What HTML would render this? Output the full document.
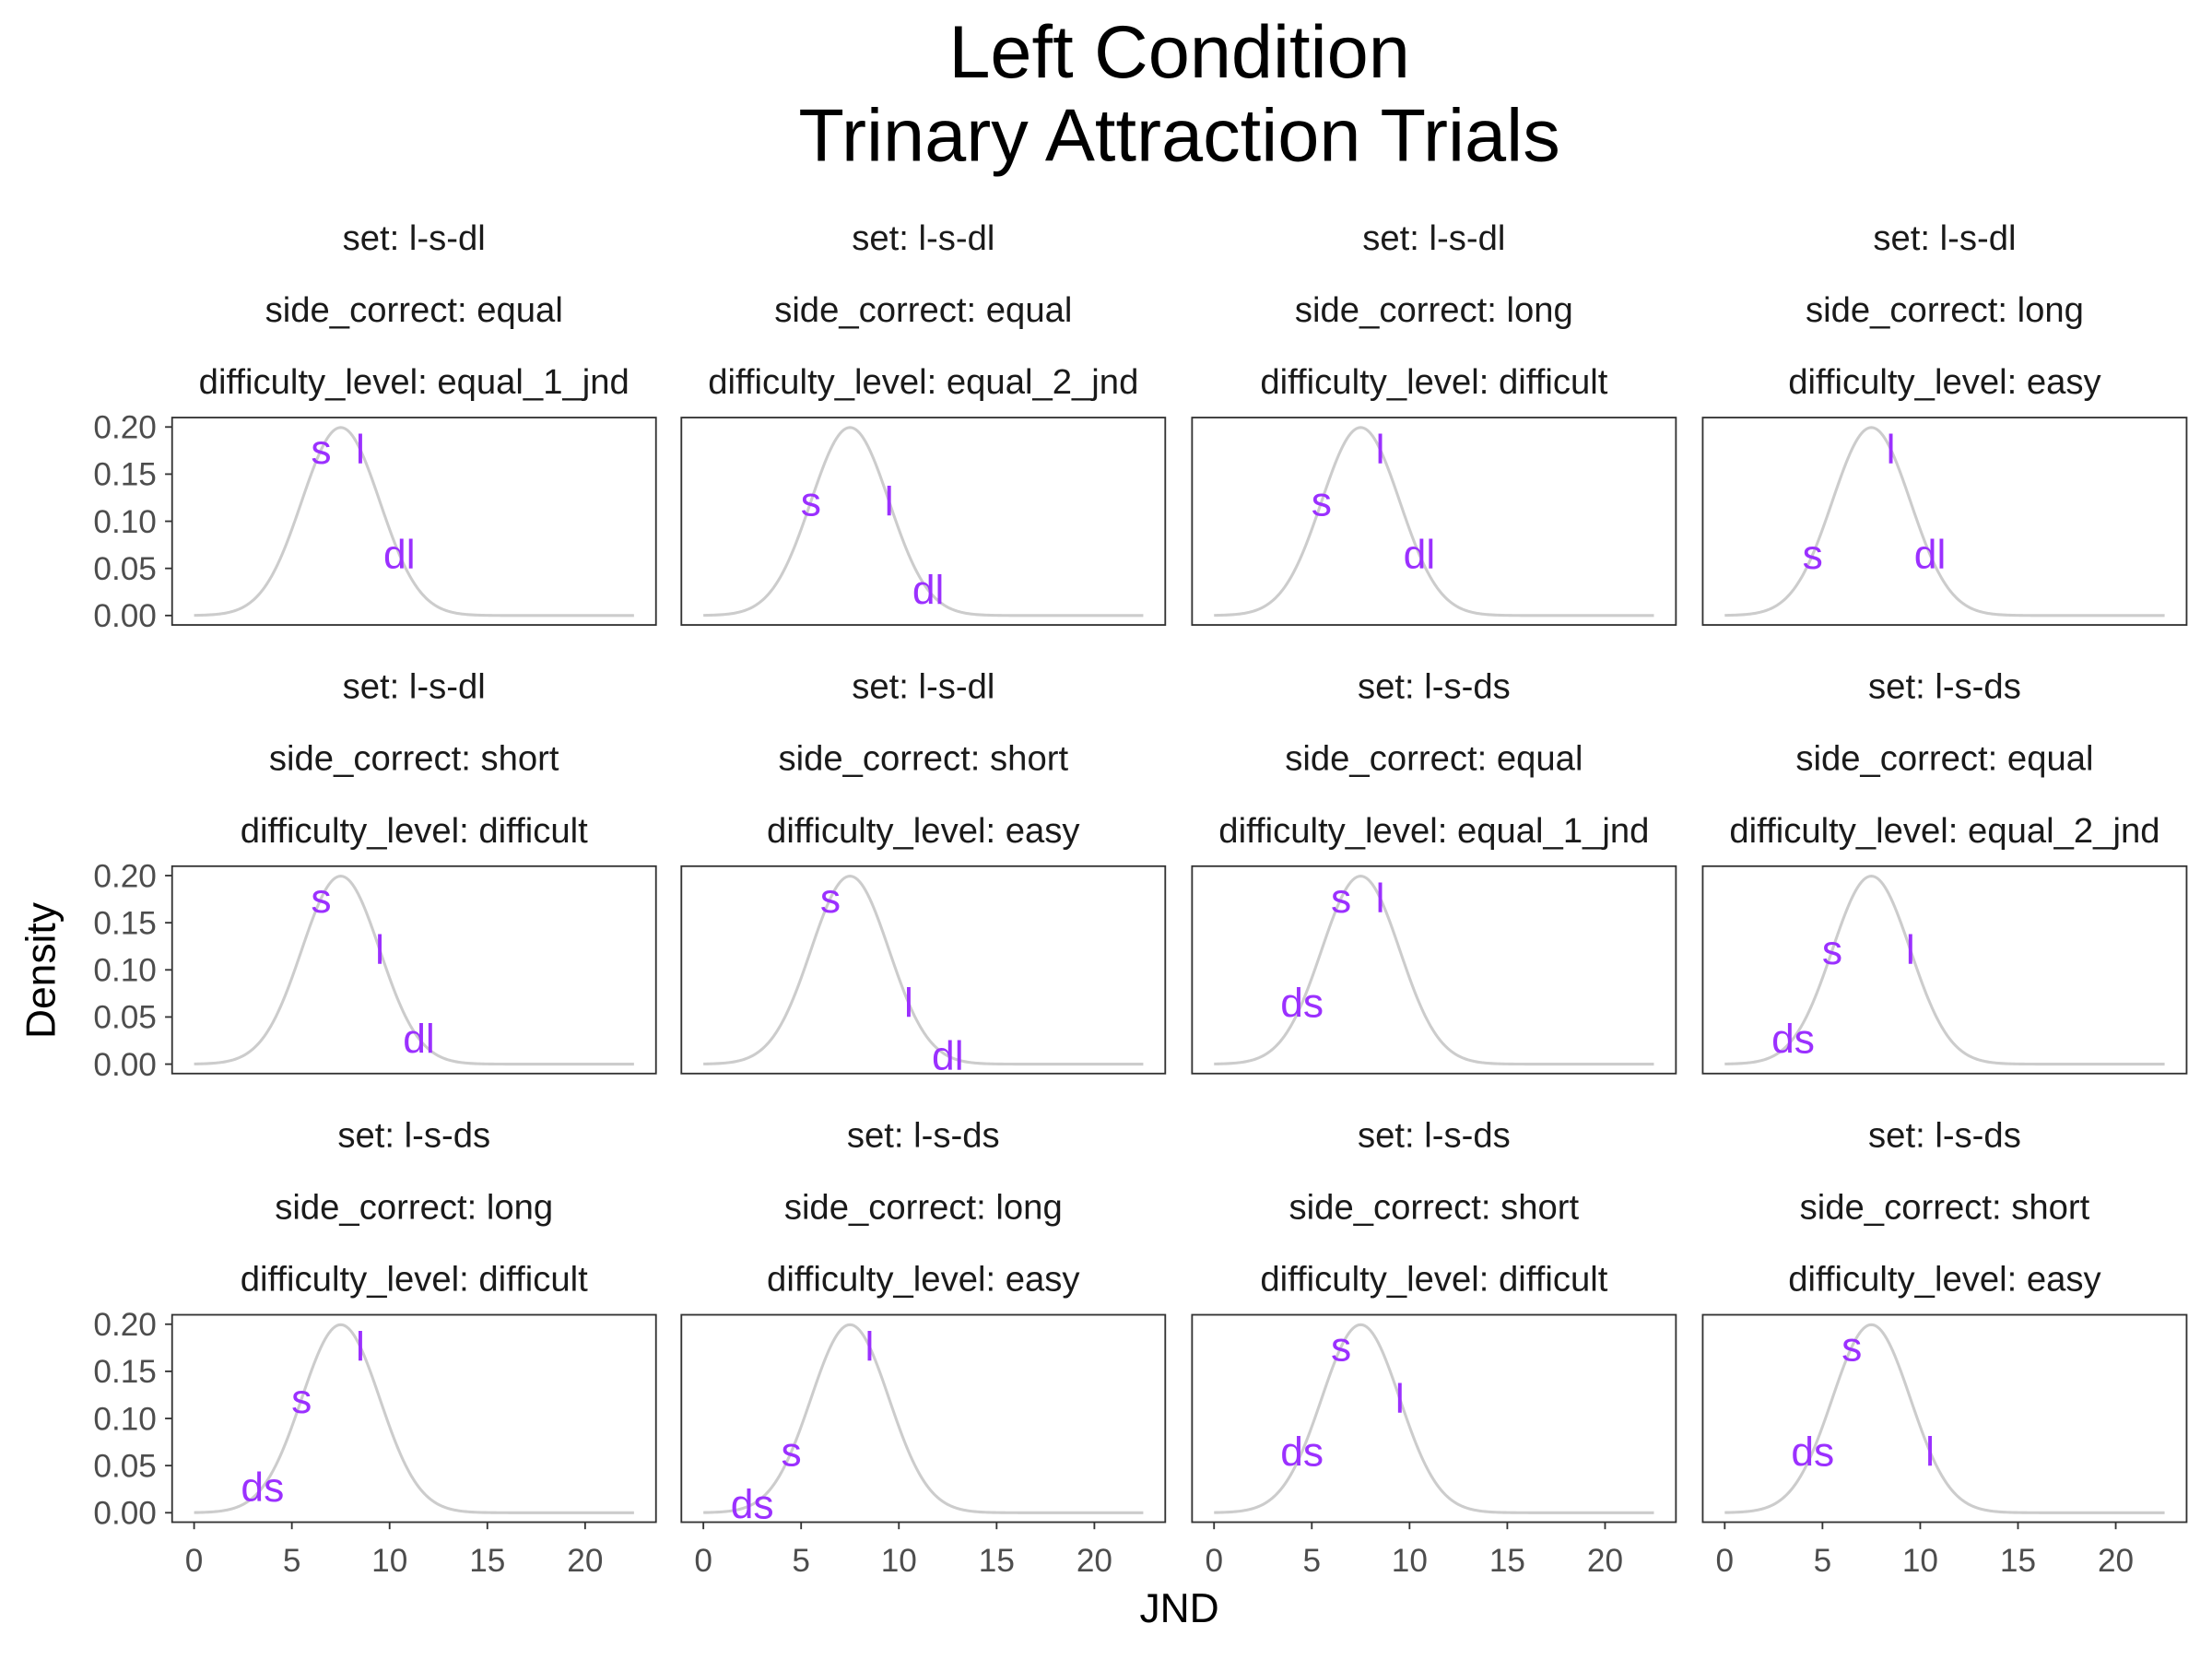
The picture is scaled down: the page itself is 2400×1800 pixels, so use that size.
<!DOCTYPE html>
<html><head><meta charset="utf-8"><style>
html,body{margin:0;padding:0;background:#fff}
svg{display:block}
text{font-family:"Liberation Sans",Arial,sans-serif}
</style></head><body>
<svg id="chart" width="2400" height="1800" viewBox="0 0 1568 1176" xmlns="http://www.w3.org/2000/svg">
<rect width="1568" height="1176" fill="#fff"/>
<text x="836" y="55" font-size="53" text-anchor="middle">Left Condition</text>
<text x="836" y="114" font-size="53" text-anchor="middle">Trinary Attraction Trials</text>
<text x="836" y="1150" font-size="29" text-anchor="middle">JND</text>
<text transform="translate(39,688) rotate(-90)" font-size="29" text-anchor="middle">Density</text>
<g id="panels"></g>
</svg>
<script>
const densityMean = 7.5;
const densitySd = 2;
const xTicks = [0,5,10,15,20];
const yTicks = [0,0.05,0.10,0.15,0.20];
const yTickLabels = ["0.00","0.05","0.10","0.15","0.20"];
const stripSet = ["l-s-dl","l-s-dl","l-s-dl","l-s-dl","l-s-dl","l-s-dl","l-s-ds","l-s-ds","l-s-ds","l-s-ds","l-s-ds","l-s-ds"];
const stripSide = ["equal","equal","long","long","short","short","equal","equal","long","long","short","short"];
const stripDiff = ["equal_1_jnd","equal_2_jnd","difficult","easy","difficult","easy","equal_1_jnd","equal_2_jnd","difficult","easy","difficult","easy"];
const labelNames = [
 ["s","l","dl"],["s","l","dl"],["s","l","dl"],["s","l","dl"],
 ["s","l","dl"],["s","l","dl"],["s","l","ds"],["s","l","ds"],
 ["s","l","ds"],["s","l","ds"],["s","l","ds"],["s","l","ds"]];
const labelValues = [
 [6.5,8.5,10.5],[5.5,9.5,11.5],[5.5,8.5,10.5],[4.5,8.5,10.5],
 [6.5,9.5,11.5],[6.5,10.5,12.5],[6.5,8.5,4.5],[5.5,9.5,3.5],
 [5.5,8.5,3.5],[4.5,8.5,2.5],[6.5,9.5,4.5],[6.5,10.5,4.5]];

const NS="http://www.w3.org/2000/svg";
const root=document.getElementById('panels');
const colX=[122,483,845,1207], rowY=[296,614,932], PW=343, PH=147;
function mk(tag,attrs,parent){const e=document.createElementNS(NS,tag);for(const k in attrs)e.setAttribute(k,attrs[k]);parent.appendChild(e);return e;}
function dens(x){return Math.exp(-((x-densityMean)**2)/(2*densitySd*densitySd))/(densitySd*Math.sqrt(2*Math.PI));}
const xmin=-1.125,xmax=23.625,ymin=-0.01,ymax=0.21;
for(let i=0;i<12;i++){
 const r=Math.floor(i/4),c=i%4,L=colX[c],T=rowY[r];
 const sx=v=>L+(v-xmin)/(xmax-xmin)*PW, sy=v=>T+PH-(v-ymin)/(ymax-ymin)*PH;
 const g=mk('g',{},root);
 
 
 const lines=["set: "+stripSet[i],"side_correct: "+stripSide[i],"difficulty_level: "+stripDiff[i]];
 lines.forEach((s,k)=>{const t=mk('text',{x:L+PW/2,y:T-126+k*51+7,'font-size':25,'text-anchor':'middle',fill:'#1a1a1a'},g);t.textContent=s;
  
  });
 let d="";for(let k=0;k<=225;k++){const x=k*0.1;d+=(k?"L":"M")+sx(x).toFixed(2)+","+sy(dens(x)).toFixed(2);}
 const p=mk('path',{d:d,fill:'none',stroke:'#cccccc','stroke-width':2},g);
 
 
 labelNames[i].forEach((n,k)=>{const v=labelValues[i][k];
  const t=mk('text',{x:sx(v),y:sy(dens(v))+10,'font-size':29,'text-anchor':'middle',fill:'#9B30FF'},g);t.textContent=n;
  
  });
 const b=mk('rect',{x:L,y:T,width:PW,height:PH,fill:'none',stroke:'#333333','stroke-width':1.2},g);
 
 
 if(c===0){yTicks.forEach((v,k)=>{mk('line',{x1:L-5,x2:L,y1:sy(v),y2:sy(v),stroke:'#333','stroke-width':1.2},g);
  const t=mk('text',{x:L-11,y:sy(v)+8,'font-size':23,'text-anchor':'end',fill:'#4d4d4d'},g);t.textContent=yTickLabels[k];
  
  });}
 if(r===2){xTicks.forEach(v=>{mk('line',{x1:sx(v),x2:sx(v),y1:T+PH,y2:T+PH+5,stroke:'#333','stroke-width':1.2},g);
  const t=mk('text',{x:sx(v),y:T+PH+35,'font-size':23,'text-anchor':'middle',fill:'#4d4d4d'},g);t.textContent=String(v);
  
  });}
}
</script>
</body></html>
